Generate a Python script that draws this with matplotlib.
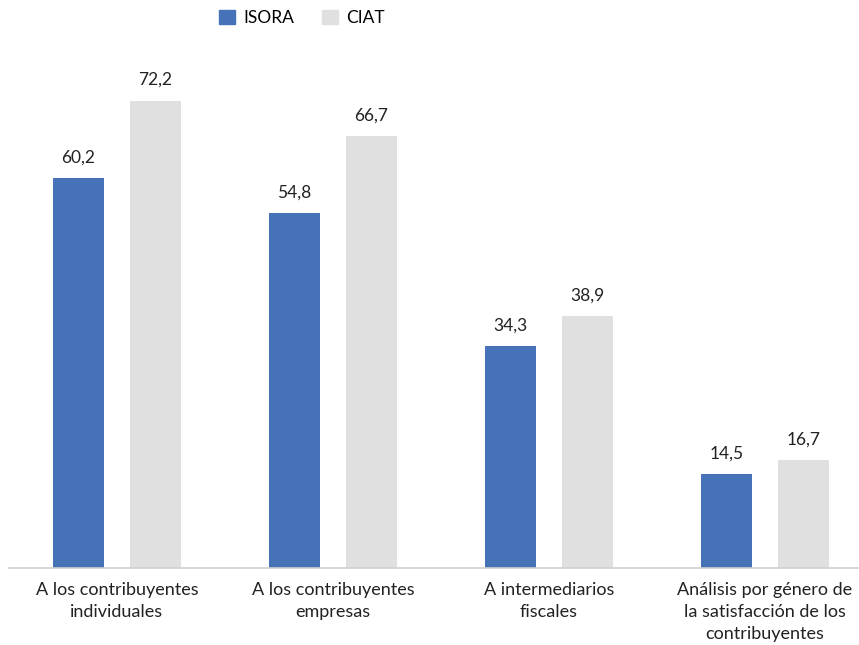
import matplotlib
matplotlib.use("Agg")
import matplotlib.pyplot as plt
import numpy as np
from matplotlib.patches import Patch

# Données
categorias = [
    "A los contribuyentes\nindividuales",
    "A los contribuyentes\nempresas",
    "A intermediarios\nfiscales",
    "Análisis por género de\nla satisfacción de los\ncontribuyentes",
]
isora = [60.2, 54.8, 34.3, 14.5]
ciat = [72.2, 66.7, 38.9, 16.7]

AZUL = "#4672b8"
GRIS = "#e0e0e0"

plt.rcParams['font.family'] = ['Lato', 'DejaVu Sans']

fig = plt.figure(figsize=(8.59, 6.45), dpi=100)
ax = fig.add_axes([9 / 859, 1 - 568 / 645, 850 / 859, 518 / 645])

x = np.arange(len(categorias))
ancho = 0.236
desp = 0.178

b1 = ax.bar(x - desp, isora, ancho, color=AZUL)
b2 = ax.bar(x + desp, ciat, ancho, color=GRIS)

for barras, vals in ((b1, isora), (b2, ciat)):
    for b, v in zip(barras, vals):
        ax.annotate(f"{v:.1f}".replace(".", ","),
                    (b.get_x() + b.get_width() / 2, v),
                    xytext=(0, 9), textcoords="offset points",
                    ha="center", va="bottom", fontsize=12.5, color="#222222")

ax.set_xlim(-0.5, -0.5 + 850 / 216)
ax.set_ylim(0, 80)
ax.set_xticks(x)
ax.set_xticklabels(categorias, fontsize=13, color="#222222", linespacing=1.45)
ax.tick_params(axis="x", length=0, pad=10)
ax.set_yticks([])
for lado in ("top", "right", "left"):
    ax.spines[lado].set_visible(False)
ax.spines["bottom"].set_color("#d0d0d0")
ax.spines["bottom"].set_linewidth(1.2)

handles = [Patch(color=AZUL, label="ISORA"), Patch(color=GRIS, label="CIAT")]
fig.legend(handles=handles, loc="center", bbox_to_anchor=(302 / 859, 1 - 18 / 645),
           ncol=2, frameon=False, fontsize=12.5, handlelength=0.9, handleheight=0.9,
           handletextpad=0.5, columnspacing=1.6)

fig.savefig("out.png", dpi=100)
